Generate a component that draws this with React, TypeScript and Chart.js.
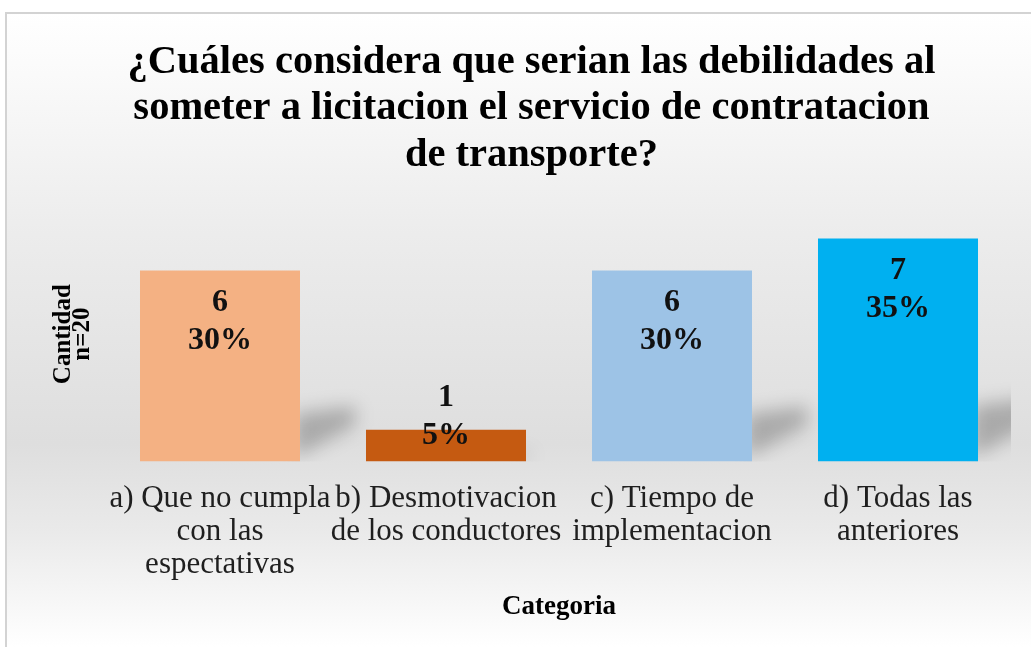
import React, { useEffect, useRef } from "react";
import { Chart, registerables } from "chart.js";

Chart.register(...registerables);

const titleLines = [
  "¿Cuáles considera que serian las debilidades al",
  "someter a licitacion el servicio de contratacion",
  "de transporte?",
];
const categories: string[][] = [
  ["a) Que no cumpla", "con las", "espectativas"],
  ["b) Desmotivacion", "de los conductores"],
  ["c) Tiempo de", "implementacion"],
  ["d) Todas las", "anteriores"],
];
const counts = [6, 1, 6, 7];
const total = 20;
const barColors = ["#F4B183", "#C55A11", "#9DC3E6", "#00B0F0"];
const yTitle = ["Cantidad", "n=20"];
const xTitle = "Categoria";

const SERIF = '"Liberation Serif", "Times New Roman", serif';

const backgroundPlugin = {
  id: "bgFrame",
  beforeDraw(chart: any) {
    const { ctx, width, height } = chart;
    ctx.save();
    ctx.fillStyle = "#ffffff";
    ctx.fillRect(0, 0, width, height);
    const g = ctx.createLinearGradient(0, 12, 0, height);
    g.addColorStop(0, "#ffffff");
    g.addColorStop(0.08, "#fbfbfb");
    g.addColorStop(0.35, "#ececec");
    g.addColorStop(0.68, "#dedede");
    g.addColorStop(0.82, "#eaeaea");
    g.addColorStop(1, "#ffffff");
    ctx.fillStyle = g;
    ctx.fillRect(6, 13, width - 6, height - 13);
    ctx.fillStyle = "#d3d3d3";
    ctx.fillRect(5, 12, width - 5, 2);
    ctx.fillRect(5, 12, 2, height - 12);
    ctx.restore();
  },
};

const shadowPlugin = {
  id: "barShadow",
  beforeDatasetsDraw(chart: any) {
    const { ctx, chartArea } = chart;
    const meta = chart.getDatasetMeta(0);
    ctx.save();
    ctx.beginPath();
    ctx.rect(chartArea.left, chartArea.top - 50, chartArea.right - chartArea.left, chartArea.bottom - chartArea.top + 50);
    ctx.clip();
    ctx.filter = "blur(9px)";
    ctx.fillStyle = "rgba(0,0,0,0.24)";
    meta.data.forEach((bar: any) => {
      const p = bar.getProps(["x", "y", "base", "width"], true);
      const H = p.base - p.y;
      const xr = p.x + p.width / 2 - 6;
      ctx.beginPath();
      ctx.moveTo(xr, p.base - 0.02 * H);
      ctx.lineTo(xr, p.base - 0.25 * H);
      ctx.lineTo(xr + 0.32 * H, p.base - 0.29 * H);
      ctx.lineTo(xr + 0.32 * H, p.base - 0.19 * H);
      ctx.closePath();
      ctx.fill();
    });
    ctx.restore();
  },
};

const labelPlugin = {
  id: "barLabels",
  afterDatasetsDraw(chart: any) {
    const { ctx } = chart;
    const meta = chart.getDatasetMeta(0);
    ctx.save();
    ctx.font = `bold 32px ${SERIF}`;
    ctx.fillStyle = "#111111";
    ctx.textAlign = "center";
    ctx.textBaseline = "middle";
    meta.data.forEach((bar: any, i: number) => {
      const p = bar.getProps(["x", "y", "base"], true);
      const c1 = Math.min(p.y + 32, p.base - 64);
      const pct = Math.round((counts[i] / total) * 100) + "%";
      ctx.fillText(String(counts[i]), p.x, c1);
      ctx.fillText(pct, p.x, c1 + 38);
    });
    ctx.restore();
  },
};

export default function App() {
  const ref = useRef<HTMLCanvasElement | null>(null);
  useEffect(() => {
    if (!ref.current) return;
    const chart = new Chart(ref.current, {
      type: "bar",
      data: {
        labels: categories,
        datasets: [
          {
            data: counts,
            backgroundColor: barColors,
            borderWidth: 0,
            categoryPercentage: 1,
            barPercentage: 0.708,
          },
        ],
      },
      options: {
        responsive: false,
        animation: false,
        layout: { padding: { left: 52, right: 20, top: 0, bottom: 24 } },
        plugins: {
          legend: { display: false },
          tooltip: { enabled: false },
          title: {
            display: true,
            text: titleLines,
            color: "#000000",
            font: { family: SERIF, size: 40.5, weight: "bold", lineHeight: 1.15 },
            padding: { top: 39, bottom: 28 },
          },
        },
        scales: {
          x: {
            grid: { display: false, drawTicks: false },
            border: { display: false },
            ticks: {
              color: "#1f1f1f",
              font: { family: SERIF, size: 31, lineHeight: 1.065 },
              padding: 21,
              maxRotation: 0,
              autoSkip: false,
            },
            title: {
              display: true,
              text: xTitle,
              color: "#000000",
              font: { family: SERIF, size: 27, weight: "bold", lineHeight: 1.2 },
              padding: { top: -12, bottom: 0 },
            },
          },
          y: {
            min: 0,
            max: 8,
            grid: { display: false, drawTicks: false },
            border: { display: false },
            ticks: { display: false },
            title: {
              display: true,
              text: yTitle,
              color: "#000000",
              font: { family: SERIF, size: 25, weight: "bold", lineHeight: 0.76 },
              padding: { top: 2, bottom: 15 },
            },
          },
        },
      },
      plugins: [backgroundPlugin, shadowPlugin, labelPlugin],
    });
    return () => chart.destroy();
  }, []);
  return (
    <div style={{ position: "fixed", left: 0, top: 0, width: 1031, height: 647 }}>
      <canvas ref={ref} width={1031} height={647} style={{ display: "block" }} />
    </div>
  );
}
